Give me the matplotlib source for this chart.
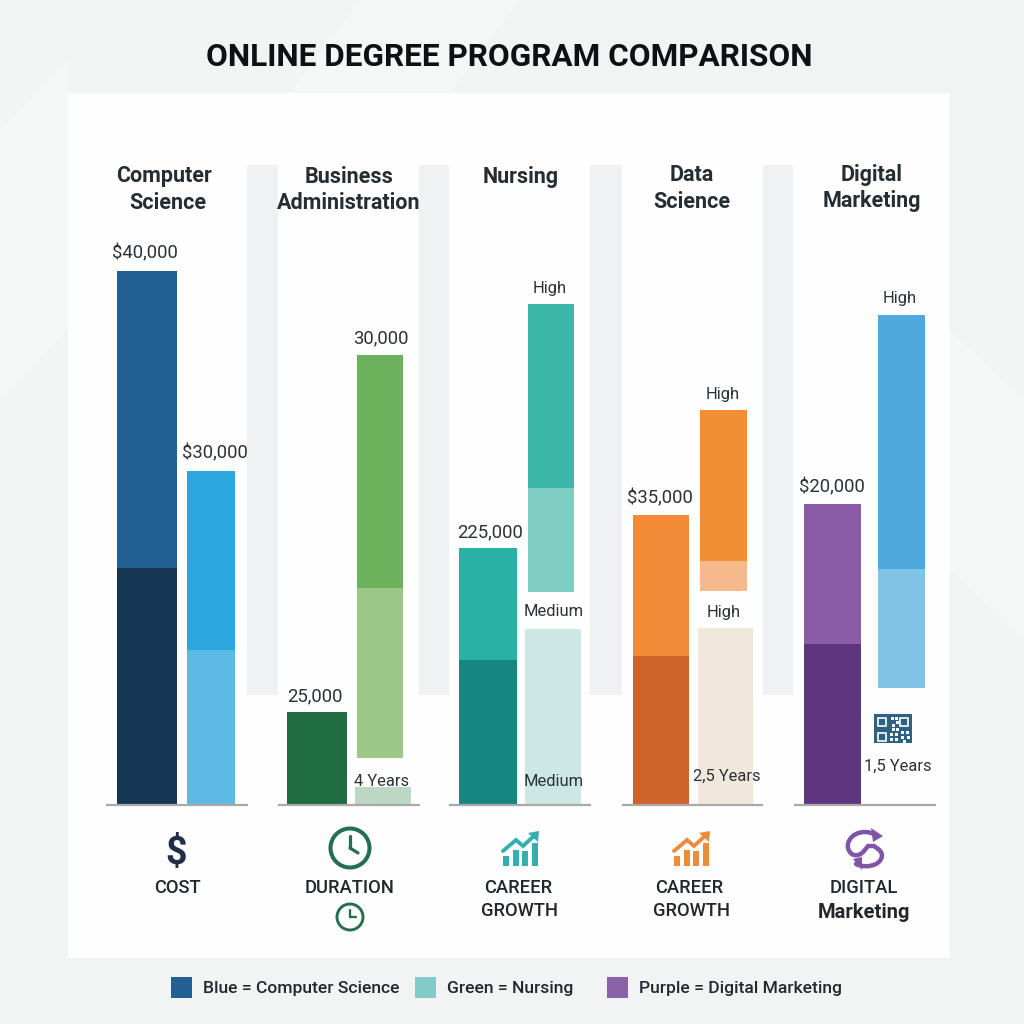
import matplotlib
matplotlib.use("Agg")
import matplotlib.pyplot as plt
from matplotlib.patches import Circle, Rectangle, Polygon, PathPatch
from matplotlib.path import Path

plt.rcParams['font.family'] = ['Roboto', 'DejaVu Sans']

# heights above the baseline
cs_main = [237, 297]
cs_side = [155, 179]
ba_main = [93]
ba_side = [170, 233]
ba_small = [18]
nu_main = [145, 112]
nu_side = [104, 184]
nu_pale = [176]
ds_main = [149, 141]
ds_side = [30, 151]
ds_pale = [177]
dm_main = [161, 140]
dm_side = [119, 254]

# where the floating bars start above the baseline
ba_side_start = 47
nu_side_start = 213
ds_side_start = 214
dm_side_start = 117

legend_labels = ["Blue = Computer Science", "Green = Nursing", "Purple = Digital Marketing"]

BASE = 805


def py(y):
    """Pixel row of the reference to the axes y value."""
    return BASE - y


def stack(ax, x0, x1, heights, colors, start=0):
    bottom = start
    for h, c in zip(heights, colors):
        ax.bar((x0 + x1) / 2, h, width=x1 - x0, bottom=bottom, color=c, linewidth=0, zorder=3)
        bottom += h


def label(ax, x, y, s, size=13.3, color="#2B3238", weight="normal", zorder=6):
    ax.text(x, py(y), s, ha="center", va="center", fontsize=size, color=color,
            fontweight=weight, zorder=zorder)


def clock(ax, x, y, r, lw, hands):
    ax.add_patch(Circle((x, py(y)), r, fill=False, ec="#24704E", lw=lw, zorder=5))
    for dx, dy in hands:
        ax.plot([x, x + dx], [py(y), py(y + dy)], color="#24704E", lw=lw * 0.8,
                solid_capstyle="round", zorder=5)


def growth_icon(ax, x, color):
    # x is the left edge of the icon
    for off, top in zip([1, 11, 20, 30], [856, 850, 851, 843]):
        ax.add_patch(Rectangle((x + off, py(866)), 6, 866 - top, fc=color, ec="none", zorder=5))
    ax.plot([x + 1, x + 14, x + 21, x + 33], [py(851), py(840), py(846), py(835)], color=color,
            lw=2.8, solid_joinstyle="miter", solid_capstyle="round", zorder=5)
    ax.add_patch(Polygon([(x + 26, py(833)), (x + 37, py(831)), (x + 36, py(842))],
                         fc=color, ec="none", zorder=5))


def qr_icon(ax, x0, y0, x1, y1):
    navy = "#2E6285"
    ax.add_patch(Rectangle((x0, py(y1)), x1 - x0, y1 - y0, fc=navy, ec="none", zorder=5))
    for cx, cy in [(x0 + 4, y0 + 4), (x0 + 26, y0 + 4), (x0 + 4, y0 + 19)]:
        ax.add_patch(Rectangle((cx, py(cy + 7.5)), 7.5, 7.5, fc=navy, ec="white", lw=1.2, zorder=6))
    for cx, cy in [(17, 3), (21, 3), (22, 7), (18, 10), (18, 14), (22, 14), (16, 19), (21, 19),
                   (16, 24), (21, 24), (27, 17), (32, 17), (27, 22), (33, 22), (29, 26)]:
        ax.add_patch(Rectangle((x0 + cx, py(y0 + cy + 2.5)), 3, 2.5, fc="white", ec="none", zorder=6))


def sync_icon(ax):
    c = "#7F56A5"
    top = [(876, 835), (862, 827), (846, 836), (848, 848), (850, 856), (858, 858), (864, 851),
           (868, 846), (874, 846), (878, 849)]
    bottom = [(878, 849), (884, 853), (883, 860), (876, 864), (870, 867), (862, 867), (856, 864)]
    pts = [(a, py(b)) for a, b in top + bottom[1:]]
    codes = [Path.MOVETO] + [Path.CURVE4] * 6 + [Path.LINETO] * 3 + [Path.CURVE4] * 6
    ax.add_patch(PathPatch(Path(pts, codes), fill=False, ec=c, lw=3.2, capstyle="round", zorder=5))
    ax.add_patch(Polygon([(871, py(828)), (873, py(842)), (883, py(836))], fc=c, ec="none", zorder=5))
    ax.add_patch(Polygon([(853, py(859)), (862, py(857)), (862, py(870))], fc=c, ec="none", zorder=5))


fig = plt.figure(figsize=(10.24, 10.24), dpi=100, facecolor="#F2F3F3")
ax = fig.add_axes([0, 0, 1, 1])
ax.set_xlim(0, 1024)
ax.set_ylim(py(1024), py(0))
ax.axis("off")

# faint shapes in the page background
for pts in [[(0, 130), (68, 60), (68, 330), (0, 400)],
            [(950, 330), (1024, 400), (1024, 640), (950, 570)],
            [(360, 0), (520, 0), (450, 93), (290, 93)]]:
    ax.add_patch(Polygon([(a, py(b)) for a, b in pts], fc="#F5F6F6", ec="none", zorder=0))

# white panel
ax.add_patch(Rectangle((68, py(958)), 882, 865, fc="#FEFEFE", ec="none", zorder=1))

# grey separators behind the groups
for x0, x1 in [(247, 278), (419, 449), (590, 622), (763, 793)]:
    ax.add_patch(Rectangle((x0, py(695)), x1 - x0, 530, fc="#EFF1F2", ec="none", zorder=2))

ax.text(509, py(57), "ONLINE DEGREE PROGRAM COMPARISON", ha="center", va="center",
        fontsize=22.7, fontweight="bold", color="#0E1013", zorder=6)

# bars
stack(ax, 117, 177, cs_main, ["#153652", "#216090"])
stack(ax, 187, 235, cs_side, ["#5FB9E6", "#2DA6DF"])
stack(ax, 287, 347, ba_main, ["#1F6C41"])
stack(ax, 357, 403, ba_side, ["#9DC787", "#6CB15B"], start=ba_side_start)
stack(ax, 355, 411, ba_small, ["#BDD7C5"])
stack(ax, 459, 517, nu_main, ["#158680", "#2AB1A6"])
stack(ax, 528, 574, nu_side, ["#7FCCC3", "#3BB6A9"], start=nu_side_start)
stack(ax, 525, 581, nu_pale, ["#CDE7E4"])
stack(ax, 633, 689, ds_main, ["#D0632C", "#F28A38"])
stack(ax, 700, 747, ds_side, ["#F5B98B", "#F28E35"], start=ds_side_start)
stack(ax, 698, 753, ds_pale, ["#F0E7DD"])
stack(ax, 804, 861, dm_main, ["#5F3580", "#8A5CA8"])
stack(ax, 878, 925, dm_side, ["#81C3E7", "#50A9DD"], start=dm_side_start)

# baselines
for x0, x1 in [(107, 247), (279, 419), (450, 590), (623, 762), (795, 935)]:
    ax.plot([x0, x1], [0, 0], color="#A9A9A9", lw=1.6, zorder=4)

# group headers
for x, y, s in [(164, 176, "Computer"), (168, 203, "Science"), (349, 177, "Business"),
                (349, 203, "Administration"), (521, 177, "Nursing"), (692, 175, "Data"),
                (692, 202, "Science"), (872, 175, "Digital"), (872, 201, "Marketing")]:
    label(ax, x, y, s, size=15.5, color="#252D33", weight="semibold")

# value labels
for x, y, s in [(145, 253, "$40,000"), (215, 453, "$30,000"), (381, 338, "30,000"),
                (315, 696, "25,000"), (490, 532, "225,000"), (660, 498, "$35,000"),
                (832, 487, "$20,000")]:
    label(ax, x, y, s)
for x, y, s in [(382, 781, "4 Years"), (550, 288, "High"), (554, 612, "Medium"), (554, 782, "Medium"),
                (723, 394, "High"), (724, 612, "High"), (727, 776, "2,5 Years"), (900, 299, "High"),
                (898, 766, "1,5 Years")]:
    label(ax, x, y, s, size=11.9)

# icons under the bars
label(ax, 176, 853, "$", size=27, color="#1F2F4A", weight="bold")
clock(ax, 350, 848, 19.5, 2.9, [(0, -12), (8, 5)])
clock(ax, 350, 917, 13, 2.1, [(0, -7), (6, 0)])
growth_icon(ax, 502, "#35AEB2")
growth_icon(ax, 673, "#EC8B3A")
sync_icon(ax)
qr_icon(ax, 874, 714, 912, 743)

# category labels
for x, y, s in [(177, 888, "COST"), (350, 888, "DURATION"), (518, 888, "CAREER"), (519, 911, "GROWTH"),
                (689, 888, "CAREER"), (692, 911, "GROWTH"), (864, 888, "DIGITAL")]:
    label(ax, x, y, s, size=13.2, color="#22272C", weight="medium")
label(ax, 864, 912, "Marketing", size=14.5, color="#22272C", weight="semibold")

# legend
for x, c, s, tx in zip([171, 415, 607], ["#225F92", "#83CBC8", "#8A62A8"], legend_labels, [301, 510, 740]):
    ax.add_patch(Rectangle((x, py(998)), 21, 21, fc=c, ec="none", zorder=5))
    label(ax, tx, 988.5, s, size=12.6, color="#23282E", weight="medium")

fig.savefig("out.png", dpi=100, facecolor=fig.get_facecolor())
